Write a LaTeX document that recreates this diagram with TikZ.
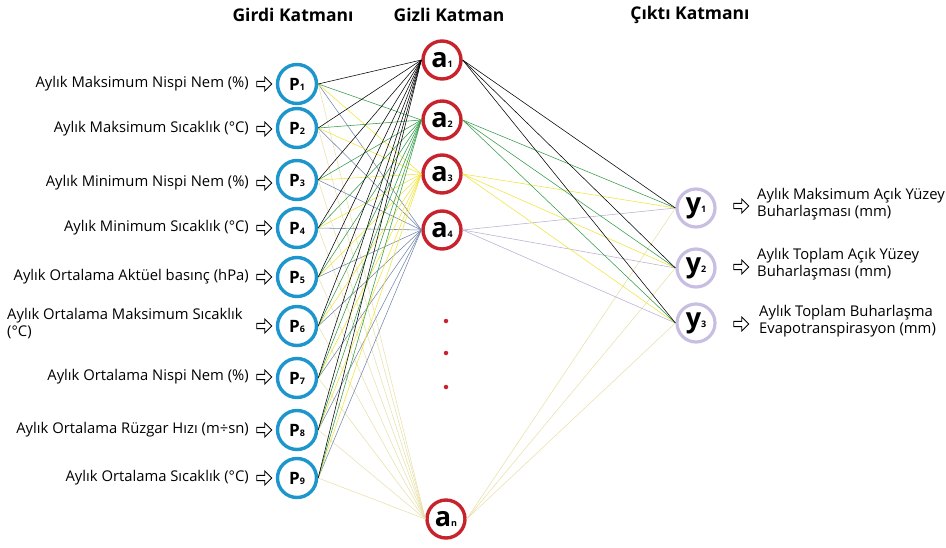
\documentclass[tikz,border=0pt]{standalone}
\usepackage{fontspec}
\usetikzlibrary{shapes.arrows}
\setmainfont{Open Sans}
\definecolor{pblue}{RGB}{28,150,205}
\definecolor{ared}{RGB}{200,35,45}
\definecolor{ylav}{RGB}{200,190,225}
\definecolor{cgreen}{RGB}{50,155,70}
\definecolor{cyellow}{RGB}{240,228,60}
\definecolor{cslate}{RGB}{115,135,170}
\definecolor{cbeige}{RGB}{232,224,170}
\definecolor{clav}{RGB}{185,175,210}
\tikzset{
  inode/.style={circle,draw=pblue,line width=3.4pt,minimum size=39pt,inner sep=0pt,font=\fontsize{17}{17}\selectfont\bfseries},
  hnode/.style={circle,draw=ared,line width=3.4pt,minimum size=38pt,inner sep=0pt,font=\fontsize{27}{27}\selectfont\bfseries},
  onode/.style={circle,draw=ylav,line width=3.2pt,minimum size=38pt,inner sep=0pt,font=\fontsize{27}{27}\selectfont\bfseries},
  lbl/.style={font=\fontsize{14.8}{17}\selectfont,inner sep=0pt},
  hdr/.style={font=\fontsize{17.5}{17.5}\selectfont\bfseries,inner sep=0pt},
  arr/.style={single arrow,draw=black,line width=0.9pt,fill=white,minimum height=15pt,minimum width=14pt,single arrow head extend=3.5pt,inner sep=1.6pt},
  conn/.style={line width=0.55pt},
  rdot/.style={circle,fill=ared,inner sep=0pt,minimum size=4.5pt}
}
\newcommand{\sbs}[1]{{\fontsize{9}{9}\selectfont #1}}
\begin{document}
\begin{tikzpicture}[x=1pt,y=-1pt]
\useasboundingbox (0,0) rectangle (946,547);
% headers
\node[hdr] (h1) at (293,15) {Girdi Katmanı};
\node[hdr] (h2) at (449,15) {Gizli Katman};
\node[hdr] (h3) at (690,15) {Çıktı Katmanı};
% input nodes
\foreach \i/\yy in {1/84,2/128,3/180,4/228,5/277,6/326,7/378,8/430,9/478}{
  \node[inode] (p\i) at (297,\yy) {P\sbs{\i}};
}
% hidden nodes
\node[hnode] (a1) at (442,60) {a\sbs{1}};
\node[hnode] (a2) at (442,120) {a\sbs{2}};
\node[hnode] (a3) at (442,174) {a\sbs{3}};
\node[hnode] (a4) at (442,230) {a\sbs{4}};
\node[hnode] (an) at (446,519) {a\sbs{n}};
\node[rdot] (d1) at (446,321) {};
\node[rdot] (d2) at (446,353) {};
\node[rdot] (d3) at (446,387) {};
% output nodes
\node[onode] (y1) at (696,208) {y\sbs{1}};
\node[onode] (y2) at (696,268) {y\sbs{2}};
\node[onode] (y3) at (696,323) {y\sbs{3}};
% connections
\foreach \i in {1,...,9}{
  \draw[conn,cbeige] (p\i.east) -- (an.west);
}
\foreach \i in {1,...,9}{
  \draw[conn,cslate] (p\i.east) -- (a4.west);
}
\foreach \i in {1,...,9}{
  \draw[conn,cyellow] (p\i.east) -- (a3.west);
}
\foreach \i in {1,...,9}{
  \draw[conn,cgreen] (p\i.east) -- (a2.west);
}
\foreach \i in {1,...,9}{
  \draw[conn,black] (p\i.east) -- (a1.west);
}
\foreach \k in {1,2,3}{
  \draw[conn,cbeige] (an.east) -- (y\k.west);
  \draw[conn,clav] (a4.east) -- (y\k.west);
  \draw[conn,cyellow] (a3.east) -- (y\k.west);
  \draw[conn,cgreen] (a2.east) -- (y\k.west);
  \draw[conn,black] (a1.east) -- (y\k.west);
}
% input labels and arrows
\foreach \i/\yy/\t in {1/84/{Aylık Maksimum Nispi Nem (\%)},2/129/{Aylık Maksimum Sıcaklık (°C)},3/183/{Aylık Minimum Nispi Nem (\%)},4/228/{Aylık Minimum Sıcaklık (°C)},5/277/{Aylık Ortalama Aktüel basınç (hPa)},7/377/{Aylık Ortalama Nispi Nem (\%)},8/430/{Aylık Ortalama Rüzgar Hızı (m÷sn)},9/478/{Aylık Ortalama Sıcaklık (°C)}}{
  \node[arr] (ar\i) at (263,\yy) {};
  \node[lbl,anchor=east] (l\i) at (249,\yy) {\t};
}
\node[arr] (ar6) at (263,326) {};
\node[lbl,anchor=west,align=left] (l6) at (7,324) {Aylık Ortalama Maksimum Sıcaklık\\(°C)};
% output labels
\node[arr] (ao1) at (740,206) {};
\node[lbl,anchor=west,align=left] (lo1) at (757,204) {Aylık Maksimum Açık Yüzey\\Buharlaşması (mm)};
\node[arr] (ao2) at (740,267) {};
\node[lbl,anchor=west,align=left] (lo2) at (757,264) {Aylık Toplam Açık Yüzey\\Buharlaşması (mm)};
\node[arr] (ao3) at (740,324) {};
\node[lbl,anchor=west,align=left] (lo3) at (759,321) {Aylık Toplam Buharlaşma\\Evapotranspirasyon (mm)};
\end{tikzpicture}
\end{document}
